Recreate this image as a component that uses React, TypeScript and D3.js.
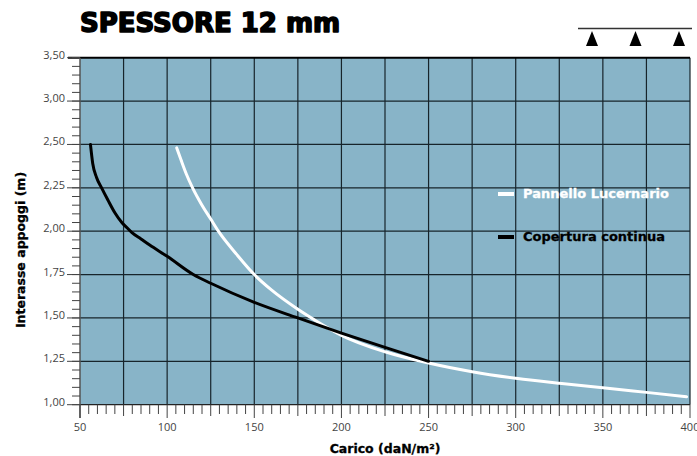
import * as d3 from "d3";

// Carico (daN/m²) vs interasse appoggi (m)
const lucernarioCarico = [105.5, 108, 111, 114.6, 120, 125, 129.4, 140, 150, 160, 175, 186, 200, 225, 250, 275, 300, 325, 350, 375, 398];
const lucernarioInterasse = [2.48, 2.41, 2.33, 2.25, 2.15, 2.07, 2.0, 1.865, 1.75, 1.66, 1.55, 1.48, 1.4, 1.305, 1.24, 1.19, 1.152, 1.123, 1.098, 1.071, 1.046];

const coperturaCarico = [56, 57.3, 59.5, 62.4, 66, 70.1, 74, 77, 80, 85, 90, 100, 115, 125, 150, 175, 200, 225, 250];
const coperturaInterasse = [2.5, 2.39, 2.31, 2.25, 2.18, 2.105, 2.05, 2.02, 1.99, 1.955, 1.92, 1.855, 1.75, 1.7, 1.59, 1.5, 1.413, 1.33, 1.25];

// the printed y labels are not evenly valued, but evenly spaced
const yTickValues = [1, 1.25, 1.5, 1.75, 2, 2.25, 2.5, 2.75, 3];
const yTickLabels = ["1,00", "1,25", "1,50", "1,75", "2,00", "2,25", "2,50", "3,00", "3,50"];
const xTickValues = [50, 100, 150, 200, 250, 300, 350, 400];

const seriesNames = ["Pannello Lucernario", "Copertura continua"];

const W = 697;
const H = 456;
const BG = "#88b4c8";
const GRID = "#17242b";
const LABEL = "#444";
const BOLD = "'DejaVu Sans', sans-serif";

export default function App() {
  const x = d3.scaleLinear().domain([50, 400]).range([80, 690]);
  const y = d3.scaleLinear().domain([1, 3]).range([404.7, 57.7]);

  const line = d3
    .line<[number, number]>()
    .x((d) => x(d[0]))
    .y((d) => y(d[1]))
    .curve(d3.curveMonotoneX);

  const lucernario = lucernarioCarico.map((c, i) => [c, lucernarioInterasse[i]] as [number, number]);
  const copertura = coperturaCarico.map((c, i) => [c, coperturaInterasse[i]] as [number, number]);

  const vGrid = d3.range(75, 400, 25);
  const hGrid = d3.range(1.25, 3.0, 0.25);
  const xMinor = d3.range(50, 401, 5);
  const yMinor = d3.range(1, 3.0001, 0.05);

  const supports = [0, 1, 2];
  const supX = d3.scaleLinear().domain([0, 2]).range([592, 679]);

  return (
    <svg
      width={W}
      height={H}
      style={{ position: "absolute", left: 0, top: 0, background: "#fff" }}
      fontFamily="'Open Sans', sans-serif"
    >
      {/* title */}
      <text
        x={80}
        y={32}
        fontFamily={BOLD}
        fontWeight="bold"
        fontSize={26}
        fill="#000"
        stroke="#000"
        strokeWidth={1.6}
        strokeLinejoin="round"
      >
        SPESSORE 12 mm
      </text>

      {/* support icon */}
      <line x1={578} x2={692} y1={28.5} y2={28.5} stroke="#333" strokeWidth={1.5} />
      {supports.map((s) => (
        <path
          key={s}
          d={`M${supX(s)},31 L${supX(s) + 6},46 L${supX(s) - 6},46 Z`}
          fill="#000"
        />
      ))}

      {/* plot area */}
      <rect x={x(50)} y={y(3)} width={x(400) - x(50)} height={y(1) - y(3)} fill={BG} />

      {vGrid.map((v) => (
        <line key={"v" + v} x1={x(v)} x2={x(v)} y1={y(3)} y2={y(1)} stroke={GRID} strokeWidth={1.2} />
      ))}
      {hGrid.map((v) => (
        <line key={"h" + v} x1={x(50)} x2={x(400)} y1={y(v)} y2={y(v)} stroke={GRID} strokeWidth={1.2} />
      ))}
      <line x1={x(400)} x2={x(400)} y1={y(3)} y2={y(1)} stroke={GRID} strokeWidth={1.2} />

      {/* curves */}
      <path d={line(lucernario) || ""} fill="none" stroke="#fff" strokeWidth={3} strokeLinecap="round" />
      <path d={line(copertura) || ""} fill="none" stroke="#000" strokeWidth={3} strokeLinecap="round" />

      {/* legend */}
      <line x1={498} x2={514} y1={194} y2={194} stroke="#fff" strokeWidth={4} />
      <text x={523} y={198} fontFamily={BOLD} fontSize={13} fontWeight="bold" fill="#fff" stroke="#fff" strokeWidth={0.3}>
        {seriesNames[0]}
      </text>
      <line x1={498} x2={514} y1={237} y2={237} stroke="#000" strokeWidth={4} />
      <text x={523} y={241} fontFamily={BOLD} fontSize={13} fontWeight="bold" fill="#000" stroke="#000" strokeWidth={0.3}>
        {seriesNames[1]}
      </text>

      {/* frame */}
      <line x1={68} x2={690} y1={y(3)} y2={y(3)} stroke="#000" strokeWidth={2} />
      <line x1={x(50)} x2={690} y1={y(1)} y2={y(1)} stroke="#222" strokeWidth={1.2} />
      <line x1={x(50)} x2={x(50)} y1={y(3)} y2={418} stroke="#555" strokeWidth={1.5} />

      {/* y ticks */}
      {yMinor.map((v) => (
        <line key={"ym" + v} x1={72} x2={x(50)} y1={y(v)} y2={y(v)} stroke={LABEL} strokeWidth={1} />
      ))}
      {yTickValues.map((v, i) => (
        <g key={"yt" + v}>
          <line x1={67} x2={x(50)} y1={y(v)} y2={y(v)} stroke={LABEL} strokeWidth={1} />
          <text x={65} y={y(v) + 1} fontSize={11} textAnchor="end" fill={LABEL}>
            {yTickLabels[i]}
          </text>
        </g>
      ))}

      {/* x ticks */}
      {xMinor.map((v) => (
        <line
          key={"xm" + v}
          x1={x(v)}
          x2={x(v)}
          y1={y(1)}
          y2={v % 50 === 0 ? 418 : v % 25 === 0 ? 416 : 414}
          stroke={LABEL}
          strokeWidth={1}
        />
      ))}
      {xTickValues.map((v) => (
        <text key={"xt" + v} x={x(v)} y={431} fontSize={11} textAnchor="middle" fill={LABEL}>
          {v}
        </text>
      ))}

      {/* axis titles */}
      <text x={385} y={453} fontFamily={BOLD} fontSize={12.5} fontWeight="bold" textAnchor="middle" fill="#000" stroke="#000" strokeWidth={0.3}>
        Carico (daN/m²)
      </text>
      <text
        transform="translate(25,250) rotate(-90)"
        fontFamily={BOLD}
        fontSize={12.5}
        fontWeight="bold"
        textAnchor="middle"
        fill="#000"
        stroke="#000"
        strokeWidth={0.3}
      >
        Interasse appoggi (m)
      </text>
    </svg>
  );
}
